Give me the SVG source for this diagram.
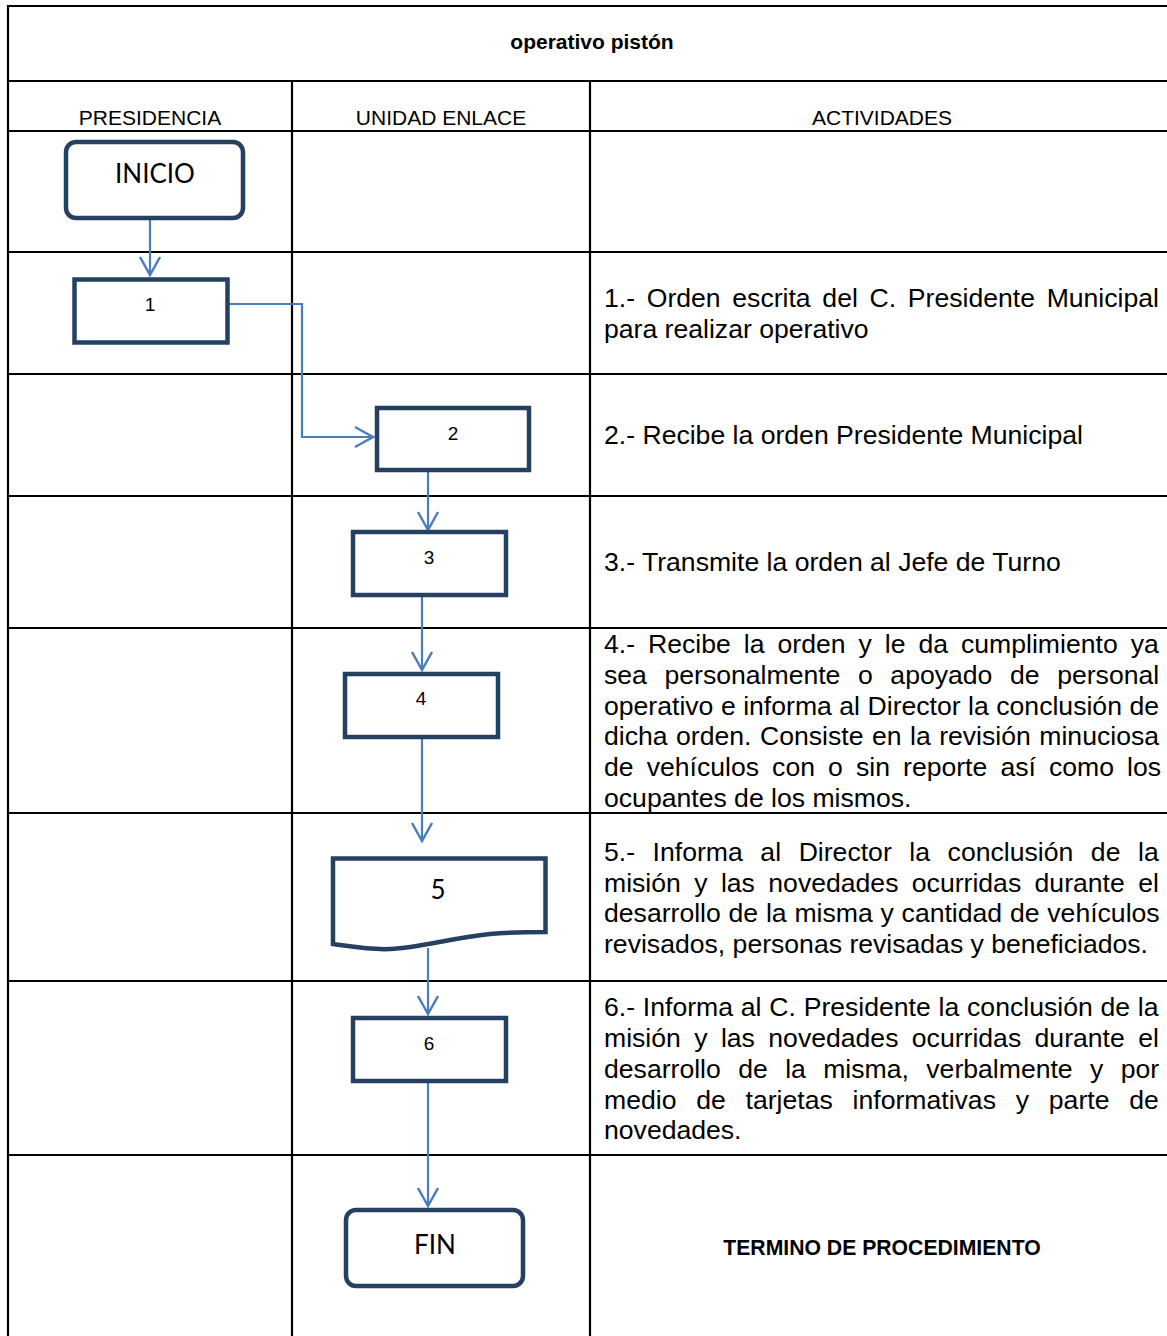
<svg xmlns="http://www.w3.org/2000/svg" width="1167" height="1336" viewBox="0 0 1167 1336">
<style>
.grid{stroke:#000;stroke-width:2.2;fill:none}
.box{fill:#fff;stroke:#254061;stroke-width:4.5}
.conn{fill:none;stroke:#4a7ebb;stroke-width:2.2}
.hdr{font-family:"Liberation Sans",Arial,sans-serif;font-size:21px;fill:#000;text-anchor:middle}
.ttl{font-family:"Liberation Sans",Arial,sans-serif;font-size:21px;font-weight:bold;fill:#000;text-anchor:middle}
.ttl2{font-family:"Liberation Sans",Arial,sans-serif;font-size:21.2px;font-weight:bold;fill:#000;text-anchor:middle}
.num{font-family:"Liberation Sans",Arial,sans-serif;font-size:19px;fill:#000;text-anchor:middle}
.cal{font-family:Lato,"Noto Sans",sans-serif;font-size:26px;fill:#000;text-anchor:middle}
.act{font-family:"Liberation Sans",Arial,sans-serif;font-size:26.6px;fill:#000}
</style>
<defs>
<marker id="arr" markerUnits="userSpaceOnUse" markerWidth="24" markerHeight="24" viewBox="-20 -12 24 24" refX="0" refY="0" orient="auto">
<path d="M-18,-10 L0,0 L-18,10" fill="none" stroke="#4a7ebb" stroke-width="2.5"/>
</marker>
</defs>
<rect width="1167" height="1336" fill="#fff"/>
<g id="table">
<path class="grid" d="M8,1336 V6 H1167 M8,81 H1167 M8,131 H1167 M8,252 H1167 M8,374 H1167 M8,496 H1167 M8,628 H1167 M8,813 H1167 M8,981 H1167 M8,1155 H1167 M292,81 V1336 M590,81 V1336"/>
<text class="ttl" x="592" y="49">operativo pistón</text>
<text class="hdr" x="150" y="125">PRESIDENCIA</text>
<text class="hdr" x="441" y="125">UNIDAD ENLACE</text>
<text class="hdr" x="882" y="125">ACTIVIDADES</text>
</g>
<g id="connectors">
<path class="conn" d="M150,220 V275" marker-end="url(#arr)"/>
<path class="conn" d="M228,304 H302 V437 H373" marker-end="url(#arr)"/>
<path class="conn" d="M428,470 V530" marker-end="url(#arr)"/>
<path class="conn" d="M422,595 V670" marker-end="url(#arr)"/>
<path class="conn" d="M422,737 V841" marker-end="url(#arr)"/>
<path class="conn" d="M428,948 V1014" marker-end="url(#arr)"/>
<path class="conn" d="M428,1081 V1206" marker-end="url(#arr)"/>
</g>
<g id="inicio">
<rect class="box" x="66" y="142" width="177" height="76" rx="10"/>
<text class="cal" x="155" y="183">INICIO</text>
</g>
<g id="n1">
<rect class="box" x="74.5" y="279.5" width="153" height="63"/>
<text class="num" x="150" y="311">1</text>
</g>
<g id="n2">
<rect class="box" x="377" y="408" width="152" height="62"/>
<text class="num" x="453" y="440">2</text>
</g>
<g id="n3">
<rect class="box" x="353" y="532" width="153" height="63"/>
<text class="num" x="429" y="564">3</text>
</g>
<g id="n4">
<rect class="box" x="345" y="674" width="153" height="63"/>
<text class="num" x="421" y="705">4</text>
</g>
<g id="n5">
<path class="box" d="M333,944 C355,947 370,950 390,949 C420,948 450,938 490,934 C510,932 530,932 545.5,932 V858.5 H333 Z"/>
<text class="cal" x="438" y="899">5</text>
</g>
<g id="n6">
<rect class="box" x="353" y="1018" width="153" height="63"/>
<text class="num" x="429" y="1050">6</text>
</g>
<g id="fin">
<rect class="box" x="346" y="1210" width="177" height="76" rx="10"/>
<text class="cal" x="435" y="1254">FIN</text>
</g>
<g id="activities">
<text class="act" x="604" y="307" word-spacing="4.3">1.- Orden escrita del C. Presidente Municipal</text>
<text class="act" x="604" y="338">para realizar operativo</text>
<text class="act" x="604" y="444">2.- Recibe la orden Presidente Municipal</text>
<text class="act" x="604" y="571">3.- Transmite la orden al Jefe de Turno</text>
<text class="act" x="604" y="653" word-spacing="5.6">4.- Recibe la orden y le da cumplimiento ya</text>
<text class="act" x="604" y="684" word-spacing="10.2">sea personalmente o apoyado de personal</text>
<text class="act" x="604" y="715" word-spacing="0.1">operativo e informa al Director la conclusión de</text>
<text class="act" x="604" y="745" word-spacing="1.1">dicha orden. Consiste en la revisión minuciosa</text>
<text class="act" x="604" y="776" word-spacing="5.7">de vehículos con o sin reporte así como los</text>
<text class="act" x="604" y="807">ocupantes de los mismos.</text>
<text class="act" x="604" y="861" word-spacing="10.2">5.- Informa al Director la conclusión de la</text>
<text class="act" x="604" y="892" word-spacing="6.0">misión y las novedades ocurridas durante el</text>
<text class="act" x="604" y="922" word-spacing="0.4">desarrollo de la misma y cantidad de vehículos</text>
<text class="act" x="604" y="953">revisados, personas revisadas y beneficiados.</text>
<text class="act" x="604" y="1016" word-spacing="0.4">6.- Informa al C. Presidente la conclusión de la</text>
<text class="act" x="604" y="1047" word-spacing="6.0">misión y las novedades ocurridas durante el</text>
<text class="act" x="604" y="1078" word-spacing="10.0">desarrollo de la misma, verbalmente y por</text>
<text class="act" x="604" y="1109" word-spacing="12.4">medio de tarjetas informativas y parte de</text>
<text class="act" x="604" y="1139">novedades.</text>
<text class="ttl2" x="882" y="1255">TERMINO DE PROCEDIMIENTO</text>
</g>
</svg>
